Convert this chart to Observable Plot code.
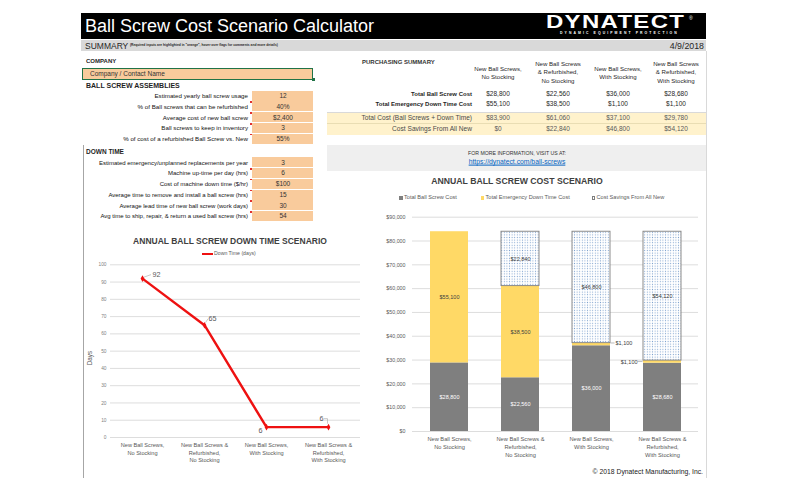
<!DOCTYPE html>
<html><head><meta charset="utf-8">
<script src="https://cdn.jsdelivr.net/npm/d3@7"></script>
<script src="https://cdn.jsdelivr.net/npm/@observablehq/plot@0.6"></script>
<style>
html,body{margin:0;padding:0;background:#fff;}
#root{position:relative;width:796px;height:499px;overflow:hidden;font-family:'Liberation Sans',Arial,Helvetica,sans-serif;}
.t{position:absolute;white-space:pre;line-height:1;}
.b{position:absolute;}
.w{position:absolute;}
</style></head><body><div id="root"></div>
<svg width="0" height="0" style="position:absolute"><defs>
<pattern id="dots" width="2.6" height="2.6" patternUnits="userSpaceOnUse"><rect width="2.6" height="2.6" fill="#fff"/><circle cx="1.3" cy="1.3" r="0.55" fill="#7FA3CF"/></pattern>
</defs></svg>
<script>
// ---------- DATA ----------
const titleText = "Ball Screw Cost Scenario Calculator";
const dateText = "4/9/2018";
const assemblyLabels = ["Estimated yearly ball screw usage","% of Ball screws that can be refurbished","Average cost of new ball screw","Ball screws to keep in inventory","% of cost of a refurbished Ball Screw vs. New"];
const assemblyValues = ["12","40%","$2,400","3","55%"];
const downTimeLabels = ["Estimated emergency/unplanned replacements per year","Machine up-time per day (hrs)","Cost of machine down time ($/hr)","Average time to remove and install a ball screw (hrs)","Average lead time of new ball screw (work days)","Avg time to ship, repair, & return a used ball screw (hrs)"];
const downTimeValues = ["3","6","$100","15","30","54"];
const scenarios = ["New Ball Screws, No Stocking","New Ball Screws & Refurbished, No Stocking","New Ball Screws, With Stocking","New Ball Screws & Refurbished, With Stocking"];
const tableHeaders = ["New Ball Screws,\nNo Stocking","New Ball Screws\n& Refurbished,\nNo Stocking","New Ball Screws,\nWith Stocking","New Ball Screws\n& Refurbished,\nWith Stocking"];
const chartTickLabels = ["New Ball Screws,\nNo Stocking","New Ball Screws &\nRefurbished,\nNo Stocking","New Ball Screws,\nWith Stocking","New Ball Screws &\nRefurbished,\nWith Stocking"];
const summaryRowLabels = ["Total Ball Screw Cost","Total Emergency Down Time Cost","Total Cost (Ball Screws + Down Time)","Cost Savings From All New"];
const ballScrewCost = [28800, 22560, 36000, 28680];
const downTimeCost = [55100, 38500, 1100, 1100];
const totalCost = [83900, 61060, 37100, 29780];
const savings = [0, 22840, 46800, 54120];
const seriesNames = ["Total Ball Screw Cost","Total Emergency Down Time Cost","Cost Savings From All New"];
const barTicks = [0,10000,20000,30000,40000,50000,60000,70000,80000,90000];
const downTimeDays = [92, 65, 6, 6];
const lineTicks = [0,10,20,30,40,50,60,70,80,90,100];

// ---------- LAYOUT HELPERS ----------
const FONT = "'Liberation Sans', Arial, Helvetica, sans-serif";
const root = document.getElementById("root");
function put(text, x, y, o = {}) {
  const d = document.createElement("div");
  d.className = "t";
  d.textContent = text;
  const ax = o.anchor === "middle" ? -50 : o.anchor === "end" ? -100 : 0;
  d.style.left = x + "px"; d.style.top = y + "px";
  d.style.fontSize = (o.size || 6) + "px";
  d.style.fontWeight = o.weight || 400;
  d.style.color = o.color || "#1f1f1f";
  if (o.lh) d.style.lineHeight = o.lh + "px";
  if (o.anchor === "middle") d.style.textAlign = "center";
  if (o.anchor === "end") d.style.textAlign = "right";
  if (o.ls) d.style.letterSpacing = o.ls + "px";
  d.style.transformOrigin = o.origin || "left center";
  d.style.transform = `translate(${ax}%,-50%)` + (o.extra || "");
  if (o.css) d.style.cssText += o.css;
  root.appendChild(d);
  return d;
}
function box(x, y, w, h, bg, css = "") {
  const d = document.createElement("div");
  d.className = "b";
  d.style.cssText = `left:${x}px;top:${y}px;width:${w}px;height:${h}px;background:${bg};${css}`;
  root.appendChild(d);
  return d;
}
const ORANGE = "#F9CB9C";

// ---------- HEADER ----------
box(81, 13, 625, 26, "#000");
put(titleText, 85, 26, {size: 18, color: "#fff"});
put("DYNATECT", 546, 21.8, {size: 18, weight: 700, color: "#fff", ls: 1, lh: 14, extra: " scaleX(1.33)"});
put("®", 689, 18, {size: 5, color: "#fff"});
put("DYNAMIC EQUIPMENT PROTECTION", 560, 34, {size: 3.4, weight: 700, color: "#fff", ls: 2.1});
box(81, 40, 625, 11, "#D9D9D9");
put("SUMMARY", 85, 45.5, {size: 8.5, color: "#262626"});
put('(Required inputs are highlighted in "orange", hover over flags for comments and more details)', 130, 46.2, {size: 3.3, weight: 700, color: "#262626"});
put(dateText, 704, 45.5, {size: 8.8, anchor: "end", color: "#262626"});

// ---------- LEFT INPUTS ----------
box(82.5, 145, 0.8, 333, "#A6A6A6");
put("COMPANY", 86, 61, {size: 6, weight: 700});
box(82, 67.5, 231, 12, ORANGE, "box-sizing:border-box;border:1.5px solid #217346;");
box(311.5, 78, 3, 3, "#217346");
put("Company / Contact Name", 90, 73.6, {size: 6.5, color: "#333"});
put("BALL SCREW ASSEMBLIES", 86, 84.5, {size: 7, weight: 700});
assemblyLabels.forEach((lab, i) => {
  const y = 96 + 10.75 * i;
  box(252, y - 5.3, 61, 10, ORANGE);
  if (i > 0) box(250, y - 5.3, 1.6, 1.6, "#E03030");
  put(lab, 248, y, {size: 6.2, anchor: "end", color: "#111"});
  put(assemblyValues[i], 283, y, {size: 6.5, anchor: "middle", color: "#333"});
});
put("DOWN TIME", 86, 151.5, {size: 6.5, weight: 700});
downTimeLabels.forEach((lab, i) => {
  const y = 162.7 + 10.72 * i;
  box(252, y - 5.3, 61, 10, ORANGE);
  if (i > 0) box(250, y - 5.3, 1.6, 1.6, "#E03030");
  put(lab, 248, y, {size: 6, anchor: "end", color: "#111"});
  put(downTimeValues[i], 283, y, {size: 6.5, anchor: "middle", color: "#333"});
});

// ---------- PURCHASING SUMMARY ----------
const fmt = d3.format("$,");
const colX = [498, 558, 618, 676];
box(705.5, 51, 0.8, 427, "#D9D9D9");
put("PURCHASING SUMMARY", 362, 62, {size: 6, weight: 700, color: "#333"});
tableHeaders.forEach((h, i) => put(h, colX[i], 73, {size: 6.1, anchor: "middle", lh: 8.4}));
box(327, 112, 379, 23, "#FFF2CC");
box(327, 112, 379, 0.7, "#D9D9D9");
box(327, 123.4, 379, 0.7, "#E9DDB3");
const rowsVals = [ballScrewCost, downTimeCost, totalCost, savings];
const rowY = [94, 104, 118, 129];
summaryRowLabels.forEach((lab, r) => {
  const band = r >= 2;
  put(lab, 472, rowY[r], {size: band ? 6.6 : 6, weight: band ? 400 : 700, anchor: "end", color: band ? "#4a4a4a" : "#1f1f1f"});
  rowsVals[r].forEach((v, i) => put(fmt(v), colX[i], rowY[r], {size: 6.5, anchor: "middle", color: band ? "#595959" : "#1f1f1f"}));
});
box(327, 145, 379, 26, "#EFEFEF");
put("FOR MORE INFORMATION, VISIT US AT:", 517, 153.5, {size: 5.2, anchor: "middle", color: "#333"});
put("https://dynatect.com/ball-screws", 517, 162, {size: 6.8, anchor: "middle", color: "#0563C1", css: "text-decoration:underline;"});

// ---------- BAR CHART ----------
put("ANNUAL BALL SCREW COST SCENARIO", 517, 180.5, {size: 8.7, weight: 700, anchor: "middle", color: "#404040"});
const legendX = [399, 480.5, 591.5];
const legendFill = ["#7f7f7f", "#ffd966", "#fff"];
seriesNames.forEach((n, k) => {
  box(legendX[k], 196.2, 3.6, 3.6, legendFill[k], k === 2 ? "box-sizing:border-box;border:0.6px solid #7f7f7f;" : "");
  put(n, legendX[k] + 5, 198.2, {size: 5.6, color: "#595959"});
});
const segRows = [];
scenarios.forEach((s, i) => {
  const vals = [ballScrewCost[i], downTimeCost[i], savings[i]];
  let acc = 0;
  vals.forEach((v, k) => { segRows.push({scenario: s, series: seriesNames[k], k, i, value: v, y1: acc, y2: acc + v, mid: acc + v / 2}); acc += v; });
});
const ballRows = segRows.filter(d => d.k === 0);
const downRows = segRows.filter(d => d.k === 1);
const saveRows = segRows.filter(d => d.k === 2 && d.value > 0);
const bigDown = downRows.filter(d => d.value > 5000);
const smallDown = downRows.filter(d => d.value <= 5000);
const barPlot = Plot.plot({
  width: 350, height: 265, marginLeft: 52, marginRight: 12, marginTop: 11.7, marginBottom: 39,
  style: {fontSize: "5.3px", fontFamily: FONT, color: "#595959", background: "transparent", overflow: "visible"},
  x: {domain: scenarios, paddingInner: 0.47, paddingOuter: 0.235, axis: null},
  y: {domain: [0, 90000], ticks: barTicks, tickFormat: fmt, tickSize: 0, tickPadding: 7, label: null},
  marks: [
    Plot.ruleY(barTicks, {stroke: "#d9d9d9", strokeWidth: 0.9}),
    Plot.barY(ballRows, {x: "scenario", y1: "y1", y2: "y2", fill: "#7f7f7f"}),
    Plot.barY(downRows, {x: "scenario", y1: "y1", y2: "y2", fill: "#ffd966"}),
    Plot.barY(saveRows, {x: "scenario", y1: "y1", y2: "y2", fill: "url(#dots)", stroke: "#7f7f7f", strokeWidth: 0.9}),
    Plot.text(ballRows, {x: "scenario", y: "mid", text: d => fmt(d.value), fill: "#fff", fontSize: 5.5}),
    Plot.text(bigDown, {x: "scenario", y: "mid", text: d => fmt(d.value), fill: "#404040", fontSize: 5.5}),
    Plot.text(smallDown.filter((d, j) => j === 0), {x: "scenario", y: "mid", text: d => fmt(d.value), fill: "#404040", fontSize: 5.5, textAnchor: "start", dx: 24, dy: -1}),
    Plot.text(smallDown.filter((d, j) => j === 1), {x: "scenario", y: "mid", text: d => fmt(d.value), fill: "#404040", fontSize: 5.5, textAnchor: "end", dx: -25}),
    Plot.text(saveRows, {x: "scenario", y: "mid", text: d => fmt(d.value), fill: "#404040", fontSize: 5.5}),
    Plot.text(scenarios, {x: d => d, text: (d, i) => chartTickLabels[i], frameAnchor: "bottom", lineAnchor: "top", dy: 4, fontSize: 5.7, lineHeight: 1.4, fill: "#595959"})
  ]
});
const bw = document.createElement("div"); bw.className = "w"; bw.style.left = "360px"; bw.style.top = "205px";
bw.appendChild(barPlot); root.appendChild(bw);
{
  const X = barPlot.scale("x"), Y = barPlot.scale("y"), w = X.bandwidth;
  const g = d3.select(barPlot).append("g").attr("stroke", "#8c8c8c").attr("stroke-width", 0.6);
  const a = smallDown[0], b = smallDown[1];
  const xa = X.apply(a.scenario) + w, ya = Y.apply(a.mid) - 1;
  g.append("line").attr("x1", xa + 0.5).attr("x2", xa + 4.5).attr("y1", ya).attr("y2", ya);
  const xb = X.apply(b.scenario), yb = Y.apply(b.mid);
  g.append("line").attr("x1", xb - 5.5).attr("x2", xb - 0.5).attr("y1", yb).attr("y2", yb);
}
put("© 2018 Dynatect Manufacturing, Inc.", 703, 472, {size: 6.8, anchor: "end", color: "#222"});

// ---------- LINE CHART ----------
put("ANNUAL BALL SCREW DOWN TIME SCENARIO", 230, 241, {size: 8.5, weight: 700, anchor: "middle", color: "#404040"});
box(202, 253.2, 11, 1.8, "#EE1111");
put("Down Time (days)", 214, 254, {size: 5.2, color: "#595959"});
put("Days", 90, 358, {size: 6.3, color: "#595959", origin: "center", extra: " rotate(-90deg)", anchor: "middle"});
const lineRows = scenarios.map((s, i) => ({scenario: s, days: downTimeDays[i], i}));
const linePlot = Plot.plot({
  width: 285, height: 215, marginLeft: 30, marginRight: 5, marginTop: 9.3, marginBottom: 33,
  style: {fontSize: "4.8px", fontFamily: FONT, color: "#7f7f7f", background: "transparent", overflow: "visible"},
  x: {type: "point", domain: scenarios, padding: 0.5, axis: null},
  y: {domain: [0, 100], ticks: lineTicks, tickSize: 0, tickPadding: 4, label: null},
  marks: [
    Plot.ruleY(lineTicks, {stroke: "#d9d9d9", strokeWidth: 0.9}),
    Plot.line(lineRows, {x: "scenario", y: "days", stroke: "#EE1111", strokeWidth: 2.4}),
    Plot.dot(lineRows, {x: "scenario", y: "days", r: 2, fill: "#EE1111", symbol: "diamond"}),
    Plot.text(lineRows.filter(d => d.i === 0), {x: "scenario", y: "days", text: d => String(d.days), dx: 14, dy: -4, fontSize: 7.2, fill: "#595959"}),
    Plot.text(lineRows.filter(d => d.i === 1), {x: "scenario", y: "days", text: d => String(d.days), dx: 8, dy: -7, fontSize: 7.2, fill: "#595959"}),
    Plot.text(lineRows.filter(d => d.i === 2), {x: "scenario", y: "days", text: d => String(d.days), dx: -6, dy: 4, fontSize: 7.2, fill: "#595959"}),
    Plot.text(lineRows.filter(d => d.i === 3), {x: "scenario", y: "days", text: d => String(d.days), dx: -7, dy: -8, fontSize: 7.2, fill: "#595959"}),
    Plot.text(scenarios, {x: d => d, text: (d, i) => chartTickLabels[i], frameAnchor: "bottom", lineAnchor: "top", dy: 4.5, fontSize: 5.6, lineHeight: 1.35, fill: "#595959"})
  ]
});
const lw = document.createElement("div"); lw.className = "w"; lw.style.left = "80px"; lw.style.top = "255px";
lw.appendChild(linePlot); root.appendChild(lw);
{
  const X = linePlot.scale("x"), Y = linePlot.scale("y");
  const g = d3.select(linePlot).append("g").attr("stroke", "#a6a6a6").attr("stroke-width", 0.6).attr("fill", "none");
  const p = lineRows.map(d => [X.apply(d.scenario), Y.apply(d.days)]);
  g.append("line").attr("x1", p[0][0] + 2).attr("y1", p[0][1] - 1).attr("x2", p[0][0] + 9).attr("y2", p[0][1] - 3.5);
  g.append("line").attr("x1", p[1][0] + 1.5).attr("y1", p[1][1] - 2).attr("x2", p[1][0] + 4).attr("y2", p[1][1] - 6);
  g.append("polyline").attr("points", `${p[3][0]-4},${p[3][1]-8} ${p[3][0]-0.5},${p[3][1]-8} ${p[3][0]-0.5},${p[3][1]-3}`);
}
</script></body></html>
